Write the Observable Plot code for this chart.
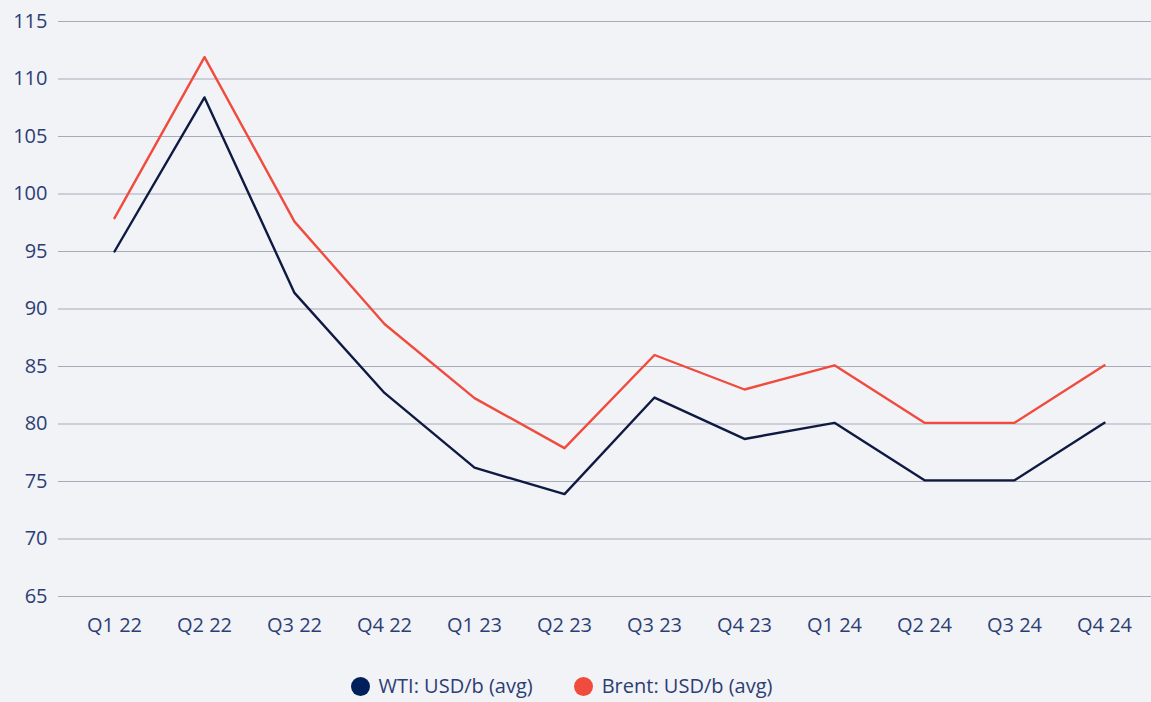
<!DOCTYPE html>
<html>
<head>
<meta charset="utf-8">
<script src="https://cdn.jsdelivr.net/npm/d3@7"></script>
<script src="https://cdn.jsdelivr.net/npm/@observablehq/plot@0.6"></script>
<style>
  html, body { margin: 0; padding: 0; background: #f2f3f7; overflow: hidden; }
  body { width: 1151px; height: 702px; font-family: "Open Sans", "Noto Sans", sans-serif; }
  #legend { display: flex; justify-content: center; gap: 41px; margin-top: 24px; padding-right: 28px;
            font-size: 20px; line-height: 24px; color: #2c3e73; }
  #legend span.item { display: inline-flex; align-items: center; gap: 9px; }
  #legend span.dot { width: 19px; height: 19px; border-radius: 50%; display: inline-block; }
</style>
</head>
<body>
<div id="chart"></div>
<div id="legend"></div>
<script>
const quarters = ["Q1 22","Q2 22","Q3 22","Q4 22","Q1 23","Q2 23","Q3 23","Q4 23","Q1 24","Q2 24","Q3 24","Q4 24"];
const wti   = [95.0, 108.4, 91.4, 82.7, 76.2, 73.9, 82.3, 78.7, 80.1, 75.1, 75.1, 80.1];
const brent = [97.9, 111.9, 97.6, 88.7, 82.25, 77.9, 86.0, 83.0, 85.1, 80.1, 80.1, 85.1];
const yTicks = [65, 70, 75, 80, 85, 90, 95, 100, 105, 110, 115];
const seriesNames = ["WTI: USD/b (avg)", "Brent: USD/b (avg)"];
const lineColors = ["#0f1a42", "#f04b3d"];
const dotColors = ["#00205b", "#f04b3d"];

const data = [];
quarters.forEach((q, i) => {
  data.push({quarter: q, value: wti[i], series: seriesNames[0]});
  data.push({quarter: q, value: brent[i], series: seriesNames[1]});
});

const textColor = "#2c3e73";

const chart = Plot.plot({
  width: 1151,
  height: 650,
  marginLeft: 58,
  marginRight: 0,
  marginTop: 21,
  marginBottom: 54,
  style: {background: "#f2f3f7", fontFamily: "'Open Sans', 'Noto Sans', sans-serif", fontSize: "20px", color: textColor},
  x: {type: "point", domain: quarters, range: [113, 1104], padding: 0, label: null},
  y: {domain: [65, 115], ticks: yTicks, label: null},
  color: {domain: seriesNames, range: lineColors},
  marks: [
    Plot.ruleY(yTicks, {stroke: "#a8aaba", strokeWidth: 1.2}),
    Plot.axisY({ticks: yTicks, tickSize: 0, tickPadding: 11, label: null, fill: textColor, fontSize: 20, tickFormat: d => String(d)}),
    Plot.axisX({tickSize: 0, tickPadding: 21, label: null, fill: textColor, fontSize: 20}),
    Plot.line(data, {x: "quarter", y: "value", z: "series", stroke: "series", strokeWidth: 2.4, curve: "linear"})
  ]
});
document.getElementById("chart").appendChild(chart);

const legend = document.getElementById("legend");
seriesNames.forEach((name, i) => {
  const item = document.createElement("span");
  item.className = "item";
  const dot = document.createElement("span");
  dot.className = "dot";
  dot.style.background = dotColors[i];
  item.appendChild(dot);
  item.appendChild(document.createTextNode(name));
  legend.appendChild(item);
});
</script>
</body>
</html>
